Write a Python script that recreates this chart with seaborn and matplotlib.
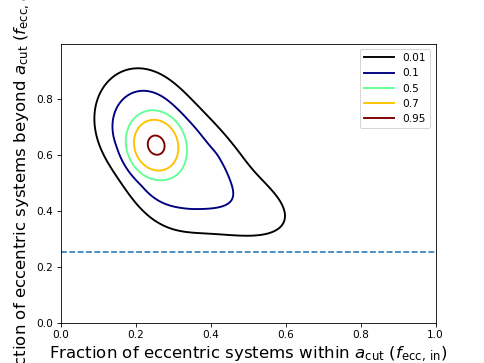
import numpy as np
import pandas as pd
import matplotlib
matplotlib.use("Agg")
import matplotlib.pyplot as plt
import seaborn as sns

# contour levels (fraction of peak density) and legend labels
levels = [0.01, 0.1, 0.5, 0.7, 0.95]
level_labels = ["0.01", "0.1", "0.5", "0.7", "0.95"]
level_colors = ["black", "#000080", "#63ff95", "#ffc100", "#800000"]

# core of the posterior: peak position, widths, correlation
core_center = [0.255, 0.636]
core_sigma = [0.070, 0.107]
core_rho = [-0.10]
# outer-contour squeeze by direction (Fourier terms c0, then cos/sin pairs k=1..4)
outer_shape = [1.60, -0.32, 0.015, 0.0625, 0.547, -0.032, -0.042, -0.0625, 0.016]
outer_radius = [1.10, 1.55]
# widening toward the lower right: depth, direction (deg), width (deg), radial range
outer_dip = [0.33, 335.0, 20.0]
dip_radius = [1.4, 2.4]
# lower-right tail of the posterior (one-sided)
tail_center = [0.40, 0.47]
tail_axis = [0.838, -0.545]
tail_sigma = [0.110, 0.06, 0.055]   # ahead, behind, across
tail_weight = [0.08]

hline_y = [0.255]
xticks = [0.0, 0.2, 0.4, 0.6, 0.8, 1.0]
yticks = [0.0, 0.2, 0.4, 0.6, 0.8]


def smoothstep(r, lo, hi):
    t = np.clip((r - lo) / (hi - lo), 0, 1)
    return t * t * (3 - 2 * t)


plt.rcParams["font.family"] = ["DejaVu Sans"]
fig, ax = plt.subplots(figsize=(6.4, 4.8), dpi=75.625)

g = np.linspace(0, 1, 600)
X, Y = np.meshgrid(g, g)
A = (X - core_center[0]) / core_sigma[0]
B = (Y - core_center[1]) / core_sigma[1]
rho = core_rho[0]
Q = (A**2 + B**2 - 2 * rho * A * B) / (1 - rho**2)
R = np.sqrt(Q)
TH = np.arctan2(B, A)
c = outer_shape
F_out = c[0] + sum(c[2 * k - 1] * np.cos(k * TH) + c[2 * k] * np.sin(k * TH) for k in range(1, 5))
F = 1 + (F_out - 1) * smoothstep(R, *outer_radius)
dth = (np.degrees(TH) - outer_dip[1] + 180) % 360 - 180
D = 1 - outer_dip[0] * np.exp(-0.5 * (dth / outer_dip[2])**2) * smoothstep(R, *dip_radius)
core = np.exp(-0.5 * Q * F * D)

ea = np.array(tail_axis) / np.hypot(*tail_axis)
dx = X - tail_center[0]
dy = Y - tail_center[1]
u = dx * ea[0] + dy * ea[1]
v = -dx * ea[1] + dy * ea[0]
su = np.where(u > 0, tail_sigma[0], tail_sigma[1])
tail = tail_weight[0] * np.exp(-0.5 * ((u / su)**2 + (v / tail_sigma[2])**2))
Z = core + tail
Z = Z / Z.max()

for lev, lab, col in zip(levels, level_labels, level_colors):
    ax.contour(X, Y, Z, levels=[lev], colors=[col], linewidths=1.8)
    ax.plot([], [], color=col, lw=1.8, label=lab)

df = pd.DataFrame({"x": [0.0, 1.0], "y": [hline_y[0], hline_y[0]]})
sns.lineplot(data=df, x="x", y="y", ax=ax, color="#1f77b4", linestyle="--", lw=1.5)

ax.set_xlim(0, 1)
ax.set_ylim(0, 0.999)
ax.set_xticks(xticks)
ax.set_yticks(yticks)
ax.tick_params(labelsize=10)
ax.set_xlabel(r"Fraction of eccentric systems within $a_{\rm cut}$ ($f_{\rm ecc,\,in}$)", fontsize=15.8)
ax.set_ylabel(r"Fraction of eccentric systems beyond $a_{\rm cut}$ ($f_{\rm ecc,\,out}$)", fontsize=15.8)
ax.legend(loc="upper right", fontsize=10, handlelength=2.9)
fig.savefig("out.png", dpi=75.625)
